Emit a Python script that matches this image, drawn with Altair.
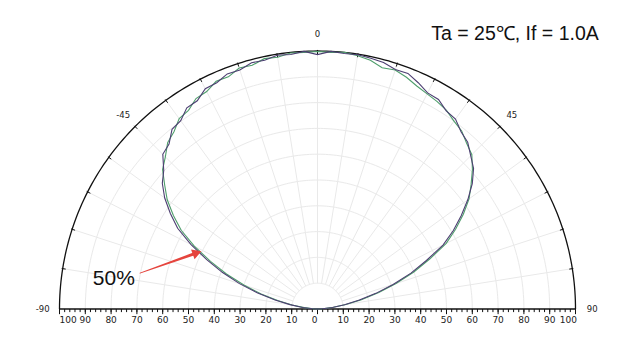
import altair as alt
import pandas as pd

# ---- data ----
angles = list(range(-90, 91, 3))
purple_vals = [
    0, 2.0, 5.8, 10.8, 16.8, 24.0, 31.8, 39.4, 47.0, 55.0,
    62.6, 68.0, 73.2, 77.4, 80.2, 84.8, 86.0, 89.6, 90.2, 93.0,
    93.2, 95.8, 96.0, 97.6, 97.4, 98.8, 98.6, 99.6, 99.2, 100.0,
    98.6,
    100.0, 99.6, 99.8, 99.4, 98.9, 97.6, 97.8, 96.0, 94.0, 93.8,
    91.6, 91.0, 88.4, 87.0, 84.0, 81.4, 77.2, 72.0, 66.4, 60.8,
    54.6, 46.2, 38.8, 30.8, 23.4, 16.6, 10.6, 5.8, 1.9, 0,
]
green_vals = [
    0, 1.6, 5.2, 10.0, 15.8, 22.6, 30.0, 37.8, 45.4, 53.6,
    61.0, 66.6, 72.0, 76.2, 80.8, 83.4, 86.8, 88.4, 91.2, 91.8,
    94.2, 94.6, 96.6, 96.4, 98.2, 97.8, 99.2, 98.8, 99.8, 99.6,
    99.8,
    99.6, 100.0, 99.4, 98.6, 96.8, 97.4, 96.2, 94.6, 93.6, 92.8,
    91.8, 90.0, 88.8, 86.4, 84.6, 80.8, 76.6, 72.6, 67.4, 61.8,
    56.0, 47.6, 40.0, 32.0, 24.6, 17.4, 11.2, 6.2, 2.1, 0,
]
grid_radii = [10, 20, 30, 40, 50, 60, 70, 80, 90]
spoke_angles = [-81, -72, -63, -54, -45, -36, -27, -18, -9, 0, 9, 18, 27, 36, 45, 54, 63, 72, 81]
arc_angles = list(range(-90, 91))
axis_major = [-90, -80, -70, -60, -50, -40, -30, -20, -10, 10, 20, 30, 40, 50, 60, 70, 80, 90]
axis_minor = list(range(-100, 101, 2))
angle_label_vals = [-90, -45, 0, 45, 90]
title_text = "Ta = 25℃, If = 1.0A"
note_text = "50%"

# ---- geometry of the page ----
K = 2.58          # pixels per percent
CX, CY = 317.5, 309
W, H = 620, 352
xdom = [-CX / K, (W - CX) / K]
ydom = [-(H - CY) / K, CY / K]

X = alt.X("x:Q", scale=alt.Scale(domain=xdom, nice=False, zero=False), axis=None)
Y = alt.Y("y:Q", scale=alt.Scale(domain=ydom, nice=False, zero=False), axis=None)

def polar(ch, r="datum.r", a="datum.angle", xo="x", yo="y"):
    return ch.transform_calculate(**{
        xo: f"({r})*sin(({a})*PI/180)",
        yo: f"({r})*cos(({a})*PI/180)",
    })

GRID = "#e9e9e9"
INK = "#222222"
FONT_AX = "DejaVu Sans"

# grid circles
grid_df = pd.DataFrame([(r, a) for r in grid_radii for a in arc_angles], columns=["r", "angle"])
grid = polar(alt.Chart(grid_df)).mark_line(color=GRID, strokeWidth=1).encode(
    X, Y, detail="r:Q", order="angle:Q")

# spokes
spoke_df = pd.DataFrame({"angle": spoke_angles})
spokes = alt.Chart(spoke_df).transform_calculate(
    x=f"{grid_radii[0]}*sin(datum.angle*PI/180)", y=f"{grid_radii[0]}*cos(datum.angle*PI/180)",
    x2="100*sin(datum.angle*PI/180)", y2="100*cos(datum.angle*PI/180)",
).mark_rule(color=GRID, strokeWidth=1).encode(X, Y, x2="x2:Q", y2="y2:Q")

# outer arc
arc_df = pd.DataFrame({"angle": arc_angles, "r": 100})
arc = polar(alt.Chart(arc_df)).mark_line(color="#111111", strokeWidth=1.3).encode(X, Y, order="angle:Q")

# rim ticks
rim_df = pd.DataFrame({"angle": spoke_angles})
rim = alt.Chart(rim_df).transform_calculate(
    x="98.8*sin(datum.angle*PI/180)", y="98.8*cos(datum.angle*PI/180)",
    x2="100.4*sin(datum.angle*PI/180)", y2="100.4*cos(datum.angle*PI/180)",
).mark_rule(color="#111111", strokeWidth=1).encode(X, Y, x2="x2:Q", y2="y2:Q")

# baseline axis
base_df = pd.DataFrame({"x": [min(axis_minor)], "x2": [max(axis_minor)], "y": [0]})
baseline = alt.Chart(base_df).mark_rule(color="#111111", strokeWidth=1.3).encode(X, Y, x2="x2:Q")

minor_df = pd.DataFrame({"x": axis_minor})
minor = alt.Chart(minor_df).transform_calculate(y="0", y2="-1.2").mark_rule(
    color="#111111", strokeWidth=1).encode(X, Y, y2="y2:Q")
major_df = pd.DataFrame({"x": [min(axis_minor), 0, max(axis_minor)] + axis_major})
major = alt.Chart(major_df).transform_calculate(y="0", y2="-2.0").mark_rule(
    color="#111111", strokeWidth=1).encode(X, Y, y2="y2:Q")

def axis_text(values, align="center", dx=0):
    df = pd.DataFrame({"x": values, "lab": [str(abs(v)) for v in values]})
    return alt.Chart(df).transform_calculate(y="0").mark_text(
        align=align, baseline="middle", dx=dx, dy=11, fontSize=9, font=FONT_AX, color=INK
    ).encode(X, Y, text="lab:N")

labels = axis_text(axis_major)
lab_zero = axis_text([0], dx=-3)
lab_left = axis_text([min(axis_minor)], align="left", dx=0)
lab_right = axis_text([max(axis_minor)], align="right", dx=1.5)

# angle labels
ang_df = pd.DataFrame({"angle": angle_label_vals, "lab": [str(v) for v in angle_label_vals], "r": 106.5})
ang_labels = polar(alt.Chart(ang_df)).mark_text(
    align="center", baseline="middle", fontSize=8.5, font=FONT_AX, color=INK
).encode(X, Y, text="lab:N")

# curves
def curve(vals, color):
    df = pd.DataFrame({"angle": angles, "r": vals})
    return polar(alt.Chart(df)).mark_line(color=color, strokeWidth=1.1).encode(X, Y, order="angle:Q")

green_line = curve(green_vals, "#4f9e6c")
purple_line = curve(purple_vals, "#4d3f72")

# annotation: arrow pointing at the 50% point
RED = "#e5443d"
arrow_df = pd.DataFrame({"angle": [-78.6, -65.0], "r": [70.2, 51.5], "w": [0.8, 3.2], "k": [0, 1]})
shaft = polar(alt.Chart(arrow_df)).mark_trail(color=RED).encode(
    X, Y, size=alt.Size("w:Q", scale=None, legend=None), order="k:Q")
head_df = pd.DataFrame({"angle": [-65.0], "r": [51.5]})
head = polar(alt.Chart(head_df)).mark_point(
    shape="triangle-right", filled=True, size=110, angle=340.7, color=RED, opacity=1
).encode(X, Y)
note_df = pd.DataFrame({"angle": [-81.5], "r": [79.8], "lab": [note_text]})
note = polar(alt.Chart(note_df)).mark_text(
    align="center", baseline="middle", fontSize=21, font="Liberation Sans", color="#111111"
).encode(X, Y, text="lab:N")

title = alt.Chart(pd.DataFrame({"lab": [title_text]})).mark_text(
    align="center", baseline="alphabetic", fontSize=19.5, font="Liberation Sans", color="#111111"
).encode(x=alt.value(515), y=alt.value(40), text="lab:N")

chart = alt.layer(
    grid, spokes, arc, rim, baseline, minor, major, labels, lab_zero, lab_left, lab_right, ang_labels,
    green_line, purple_line, shaft, head, note, title,
).properties(
    width=W, height=H,
    autosize=alt.AutoSizeParams(type="none"),
    padding=0,
    background="white",
).configure_view(stroke=None)

chart.save("out.html", embed_options={"renderer": "svg", "actions": False})
